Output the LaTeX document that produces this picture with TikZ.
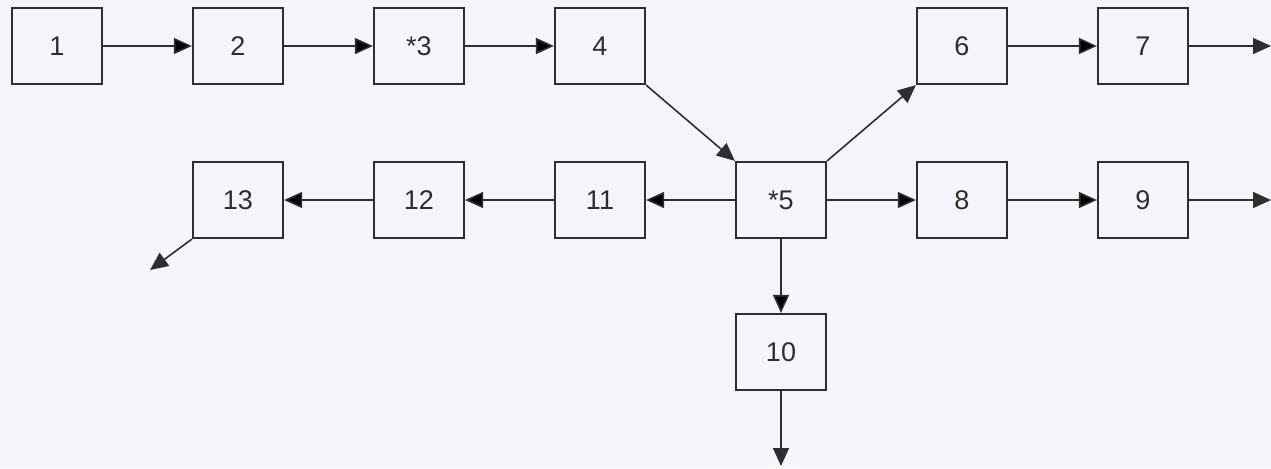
\documentclass[tikz,border=0pt]{standalone}
\usepackage{fontspec}
\setmainfont{Liberation Sans}
\usetikzlibrary{arrows.meta}
\definecolor{paper}{HTML}{F3F5FA}
\definecolor{ink}{HTML}{2E2E2E}
\tikzset{
  block/.style={draw=ink,line width=1.1pt,text=ink,minimum width=45pt,minimum height=38pt,font=\fontsize{13.5pt}{15pt}\selectfont},
  flow/.style={draw=ink,line width=0.8pt,-{Triangle[length=9pt,width=8pt]}},
}
\begin{document}
\begin{tikzpicture}[node distance=90.5pt]
      \fill[paper] (0,0) rectangle (635.5pt,-234pt);
      \useasboundingbox (0,0) rectangle (635.5pt,-234pt);
      \node[block] (b1) at (28.5pt,-23pt) {1};
      \node[block,right of=b1] (b2) {2};
      \node[block,right of=b2] (b3) {*3};
      \node[block,right of=b3] (b4) {4};
      \node[block,below of=b4,node distance=77pt,xshift=90.5pt] (b5) {*5};
      \node[block,right of=b5,yshift=77pt] (b6) {6};
      \node[block,right of=b6] (b7) {7};
      \node[block,right of=b5] (b8) {8};
      \node[block,right of=b8] (b9) {9};
      \node[block,below of=b5,node distance=76pt] (b10) {10};
      \node[block,left of=b5] (b11) {11};
      \node[block,left of=b11] (b12) {12};
      \node[block,left of=b12] (b13) {13};
      \coordinate (out7) at (b7.east -| 635.5pt,0);
      \coordinate (out9) at (b9.east -| 635.5pt,0);
      \coordinate (out10) at (b10.south |- 0,-233pt);
      \coordinate (out13) at (75pt,-135pt);

      \path[flow] (b1) edge (b2);
      \path[flow] (b2) edge (b3);
      \path[flow] (b3) edge (b4);
      \draw[flow] (b4.south east) -- (b5.north west);
      \draw[flow] (b5.north east) -- (b6.south west);
      \path[flow] (b6) edge (b7);
      \draw[flow] (b7.east) -- (out7);
      \path[flow] (b5) edge (b8);
      \path[flow] (b8) edge (b9);
      \draw[flow] (b9.east) -- (out9);
      \path[flow] (b5) edge (b10);
      \draw[flow] (b10.south) -- (out10);
      \path[flow] (b5) edge (b11);
      \path[flow] (b11) edge (b12);
      \path[flow] (b12) edge (b13);
      \draw[flow] (b13.south west) -- (out13);
\end{tikzpicture}
\end{document}
